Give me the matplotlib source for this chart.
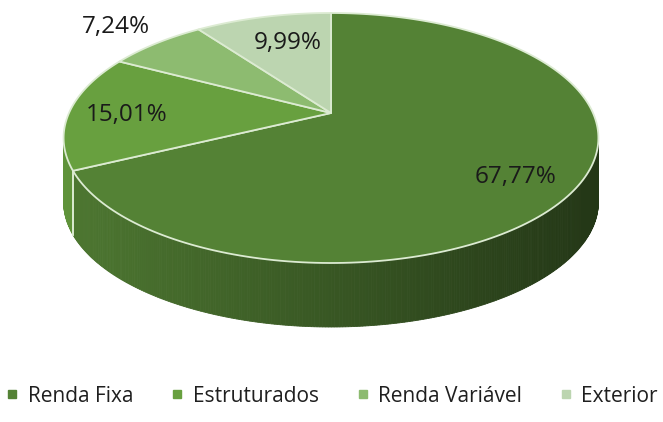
import numpy as np
import matplotlib.pyplot as plt
from matplotlib.patches import Polygon
from matplotlib.lines import Line2D
from matplotlib.colors import to_rgb

categories = ['Renda Fixa', 'Estruturados', 'Renda Variável', 'Exterior']
values = [67.77, 15.01, 7.24, 9.99]
colors = ['#548235', '#68a03f', '#8dbb70', '#bcd5b0']

# layout of the fake 3d pie (pixel coords)
CX, CY = 331, 113          # projected centre of the disc
A, B, K = 262, 120, 0.2    # radii and perspective factor
DEPTH = 64
label_pos = [(516, 177), (127, 115), (116, 27), (288, 43)]

def proj(t, r=1.0, dz=0.0):
    t = np.radians(t)
    u, v = r * np.cos(t), r * np.sin(t)
    w = 1 + K * v
    return CX + A * u / w, CY - B * v / w + dz

plt.rcParams['font.family'] = ['Open Sans', 'DejaVu Sans']
fig = plt.figure(figsize=(6.63, 4.22), dpi=100)
ax = fig.add_axes([0, 0, 1, 1])
ax.set_xlim(0, 663)
ax.set_ylim(422, 0)
ax.axis('off')

# wedge angles, clockwise from the top
total = sum(values)
angles = []
start = 90.0
for v in values:
    span = 360.0 * v / total
    angles.append((start - span, start))
    start -= span

# silhouette: tangent is vertical where sin t = -K
t_left = 180 + np.degrees(np.arcsin(K))
t_right = 360 - np.degrees(np.arcsin(K))
edge = '#dcebd2'

# side walls with a horizontal shading gradient
for (a0, a1), c in zip(angles, colors):
    lo, hi = a0 % 360, a1 % 360
    if hi <= lo:
        hi += 360
    s0, s1 = max(lo, t_left), min(hi, t_right)
    if s1 <= s0:
        continue
    base = np.array(to_rgb(c))
    ts = np.arange(s0, s1, 0.5).tolist() + [s1]
    for i in range(len(ts) - 1):
        x0, y0 = proj(ts[i])
        x1, y1 = proj(ts[i + 1])
        f = 0.92 - 0.5 * ((x0 + x1) / 2 - 63) / 535
        col = base * f
        ax.add_patch(Polygon([(x0, y0), (x1, y1), (x1, y1 + DEPTH), (x0, y0 + DEPTH)],
                             closed=True, facecolor=col, edgecolor=col, lw=0.6))
    # vertical seam where a wedge boundary sits on the front
    for t in (lo, hi):
        if t_left < t % 360 < t_right or t_left < t < t_right:
            x, y = proj(t)
            ax.plot([x, x], [y, y + DEPTH], color=edge, lw=1.2)

# top faces
for (a0, a1), c in zip(angles, colors):
    ts = np.linspace(a0, a1, 200)
    pts = [proj(t) for t in ts] + [(CX, CY)]
    ax.add_patch(Polygon(pts, closed=True, facecolor=c, edgecolor=edge, lw=1.3,
                         joinstyle='round'))

# data labels
for v, (x, y) in zip(values, label_pos):
    ax.text(x, y, f'{v:.2f}%'.replace('.', ','), ha='center', va='center',
            fontsize=17.5, color='#1a1a1a')

handles = [Line2D([], [], marker='s', linestyle='none', markersize=6,
                  markerfacecolor=c, markeredgecolor=c) for c in colors]
ax.legend(handles, categories, loc='center', bbox_to_anchor=(0.5, 1 - 396 / 422),
          ncol=4, frameon=False, fontsize=15, handlelength=0.7, handletextpad=0.4,
          columnspacing=1.75, labelcolor='#1f1f1f', borderpad=0, borderaxespad=0)

fig.savefig('out.png', dpi=100)
